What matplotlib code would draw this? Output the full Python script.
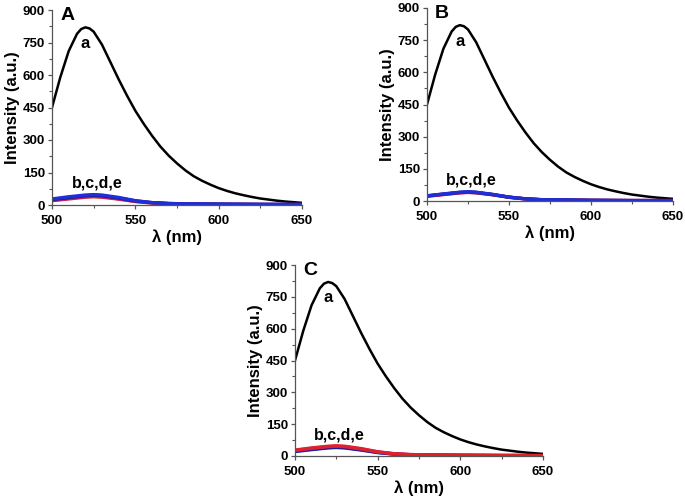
import numpy as np
import matplotlib
matplotlib.use('Agg')
import matplotlib.pyplot as plt
from matplotlib.ticker import MultipleLocator

plt.rcParams['font.family'] = ['Liberation Sans', 'DejaVu Sans']
plt.rcParams['font.weight'] = 'bold'

# wavelength (nm)
wl = [500, 505, 510, 515, 517.5, 520, 522.5, 525, 530, 535, 540, 545, 550, 555, 560, 565,
      570, 575, 580, 585, 590, 595, 600, 605, 610, 615, 620, 625, 630, 635, 640, 645, 650]
# curve a (same in all panels)
curve_a = [450, 590, 710, 790, 812, 820, 815, 800, 740, 660, 580, 505, 435, 375, 320, 270,
           228, 192, 160, 133, 112, 94, 78, 65, 54, 45, 37, 30, 25, 20, 16, 13, 10]

# quenched curves b-e, sampled on a coarser grid
wl_q = [500, 510, 520, 525, 530, 540, 550, 560, 570, 580, 600, 625, 650]
panel_A = {
    'b': [20, 28, 36, 38, 36, 27, 16, 9, 6, 5, 3, 2, 2],
    'c': [22, 31, 39, 41, 39, 29, 17, 10, 6, 5, 3, 2, 2],
    'd': [25, 34, 43, 45, 43, 32, 19, 11, 7, 5, 4, 3, 2],
    'e': [28, 38, 46, 48, 46, 35, 20, 11, 7, 5, 4, 3, 3],
}
panel_B = {
    'b': [22, 30, 38, 40, 38, 29, 17, 10, 6, 5, 3, 2, 2],
    'c': [23, 31, 39, 41, 39, 30, 18, 10, 6, 5, 3, 2, 2],
    'd': [24, 32, 40, 42, 40, 30, 18, 10, 6, 5, 3, 2, 2],
    'e': [24, 33, 41, 43, 41, 31, 18, 10, 6, 5, 3, 2, 2],
}
panel_C = {
    'b': [28, 38, 46, 48, 46, 35, 20, 11, 7, 5, 4, 3, 2],
    'c': [26, 36, 44, 46, 44, 33, 19, 10, 6, 5, 3, 2, 2],
    'd': [23, 32, 40, 42, 40, 30, 17, 9, 6, 5, 3, 2, 2],
    'e': [21, 30, 38, 40, 38, 28, 16, 9, 5, 4, 3, 2, 2],
}
colors = {'b': '#e0202a', 'c': '#b0208a', 'd': '#1a1a80', 'e': '#1f2fd8'}


def draw_panel(ax, quenched, letter, order):
    ax.plot(wl, curve_a, color='black', lw=1.8)
    for key in order:
        ax.plot(wl_q, quenched[key], color=colors[key], lw=2.4)
    ax.set_xlim(500, 650)
    ax.set_ylim(0, 900)
    ax.xaxis.set_major_locator(MultipleLocator(50))
    ax.xaxis.set_minor_locator(MultipleLocator(25))
    ax.yaxis.set_major_locator(MultipleLocator(150))
    ax.yaxis.set_minor_locator(MultipleLocator(75))
    ax.spines['top'].set_visible(False)
    ax.spines['right'].set_visible(False)
    for s in ['left', 'bottom']:
        ax.spines[s].set_color('#555555')
        ax.spines[s].set_linewidth(0.9)
    ax.tick_params(which='major', length=3, width=0.9, color='#555555', labelsize=9.5)
    ax.tick_params(axis='x', which='major', pad=4)
    ax.tick_params(axis='y', which='major', pad=2)
    ax.tick_params(which='minor', length=2, width=0.8, color='#555555')
    for lab in ax.get_xticklabels() + ax.get_yticklabels():
        lab.set_fontweight('bold')
    ax.set_xlabel('λ (nm)', fontsize=12, fontweight='bold', labelpad=2)
    ax.set_ylabel('Intensity (a.u.)', fontsize=12, fontweight='bold', labelpad=2)
    ax.text(505, 875, letter, fontsize=14, fontweight='bold', va='center', ha='left')
    ax.text(520, 745, 'a', fontsize=12, fontweight='bold', ha='center', va='center')
    ax.text(527, 100, 'b,c,d,e', fontsize=11.5, fontweight='bold', ha='center', va='center')


fig = plt.figure(figsize=(6.85, 4.96), dpi=100)
W, H = 685, 496
axA = fig.add_axes([52 / W, 1 - 205 / H, 250 / W, 195 / H])
axB = fig.add_axes([427 / W, 1 - 201 / H, 246 / W, 193 / H])
axC = fig.add_axes([295 / W, 1 - 456 / H, 248 / W, 191 / H])

draw_panel(axA, panel_A, 'A', ['b', 'c', 'd', 'e'])
draw_panel(axB, panel_B, 'B', ['b', 'c', 'd', 'e'])
draw_panel(axC, panel_C, 'C', ['e', 'd', 'c', 'b'])

fig.savefig('out.png', dpi=100)
